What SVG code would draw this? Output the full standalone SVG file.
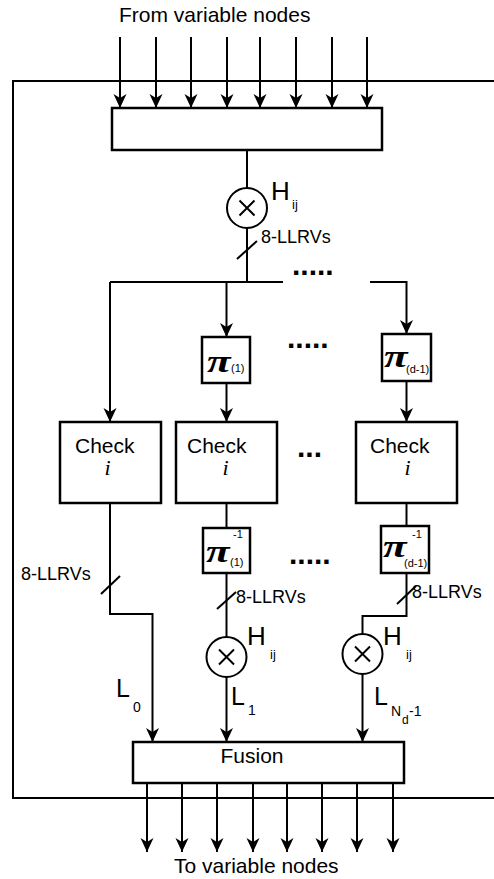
<svg xmlns="http://www.w3.org/2000/svg" width="494" height="879" viewBox="0 0 494 879">
<style>
.ln{fill:none;stroke:#000;stroke-width:2}
.bx{fill:#fff;stroke:#000;stroke-width:2.5}
.t{font-family:"Liberation Sans",Arial,sans-serif;fill:#000}
.pi{font-family:"Liberation Serif","Times New Roman",serif;font-style:italic;font-weight:bold;font-size:32px;fill:#000}
.it{font-family:"Liberation Serif","Times New Roman",serif;font-style:italic;font-size:22px;fill:#000}
.dots{font-family:"Liberation Sans",Arial,sans-serif;font-weight:bold;font-size:30px;fill:#000}
</style>
<defs>
<marker id="ah" markerUnits="userSpaceOnUse" markerWidth="16" markerHeight="16" viewBox="-15 -8 16 16" refX="0" refY="0" orient="auto">
<path d="M0,0 L-14,-6.5 L-10,0 L-14,6.5 Z" fill="#000"/>
</marker>
</defs>
<rect width="494" height="879" fill="#fff"/>
<g id="frame">
<path class="ln" d="M494,81 H13 V798 H494"/>
</g>
<g id="connectors">
<path class="ln" marker-end="url(#ah)" d="M120,37 V108"/>
<path class="ln" marker-end="url(#ah)" d="M156,37 V108"/>
<path class="ln" marker-end="url(#ah)" d="M191,37 V108"/>
<path class="ln" marker-end="url(#ah)" d="M227,37 V108"/>
<path class="ln" marker-end="url(#ah)" d="M260,37 V108"/>
<path class="ln" marker-end="url(#ah)" d="M296,37 V108"/>
<path class="ln" marker-end="url(#ah)" d="M332,37 V108"/>
<path class="ln" marker-end="url(#ah)" d="M367,37 V108"/>
<path class="ln" d="M247,150 V188"/>
<path class="ln" d="M247,228 V282"/>
<path class="ln" d="M237,259 L257,241"/>
<path class="ln" d="M110,282 H283"/>
<path class="ln" marker-end="url(#ah)" d="M110,282 V422"/>
<path class="ln" marker-end="url(#ah)" d="M226.5,282 V337"/>
<path class="ln" marker-end="url(#ah)" d="M370,282 H406.5 V334"/>
<path class="ln" marker-end="url(#ah)" d="M226.5,383 V422"/>
<path class="ln" marker-end="url(#ah)" d="M406.5,381 V422"/>
<path class="ln" marker-end="url(#ah)" d="M110,503 V614 H152.5 V742"/>
<path class="ln" d="M101,594 L120,576"/>
<path class="ln" d="M226.5,503 V528"/>
<path class="ln" d="M226.5,573 V637"/>
<path class="ln" d="M217,609 L236,592"/>
<path class="ln" marker-end="url(#ah)" d="M226.5,677 V742"/>
<path class="ln" d="M406.5,503 V526"/>
<path class="ln" d="M406.5,573 V616 H362.5 V634"/>
<path class="ln" d="M397,604 L416,586"/>
<path class="ln" marker-end="url(#ah)" d="M362.5,674 V742"/>
<path class="ln" marker-end="url(#ah)" d="M147,783 V852"/>
<path class="ln" marker-end="url(#ah)" d="M182,783 V852"/>
<path class="ln" marker-end="url(#ah)" d="M217,783 V852"/>
<path class="ln" marker-end="url(#ah)" d="M253,783 V852"/>
<path class="ln" marker-end="url(#ah)" d="M287,783 V852"/>
<path class="ln" marker-end="url(#ah)" d="M322,783 V852"/>
<path class="ln" marker-end="url(#ah)" d="M357,783 V852"/>
<path class="ln" marker-end="url(#ah)" d="M393,783 V852"/>
</g>
<g id="labels">
<text class="t" x="119" y="22" font-size="21">From variable nodes</text>
<text class="t" x="174" y="873" font-size="21">To variable nodes</text>
<text class="t" x="271" y="200" font-size="26">H</text>
<text class="t" x="292" y="209" font-size="13">ij</text>
<text class="t" x="261" y="243" font-size="18">8-LLRVs</text>
<text class="t" x="21" y="580" font-size="18">8-LLRVs</text>
<text class="t" x="236" y="603" font-size="18">8-LLRVs</text>
<text class="t" x="412" y="598" font-size="18">8-LLRVs</text>
<text class="t" x="247" y="645" font-size="26">H</text>
<text class="t" x="270" y="659" font-size="13">ij</text>
<text class="t" x="383" y="645" font-size="26">H</text>
<text class="t" x="406" y="659" font-size="13">ij</text>
<text class="t" x="116" y="697" font-size="25">L</text>
<text class="t" x="133" y="712" font-size="14">0</text>
<text class="t" x="231" y="705" font-size="25">L</text>
<text class="t" x="248" y="715" font-size="14">1</text>
<text class="t" x="374" y="705" font-size="25">L</text>
<text class="t" x="391" y="716" font-size="14">N</text>
<text class="t" x="402" y="724" font-size="12">d</text>
<text class="t" x="409" y="716" font-size="14">-1</text>
<text class="dots" x="292" y="275">.....</text>
<text class="dots" x="287" y="348">.....</text>
<text class="dots" x="297" y="457">...</text>
<text class="dots" x="289" y="564">.....</text>
</g>
<g id="input-box"><rect class="bx" x="112" y="108" width="270" height="42"/></g>
<g id="mult-top">
<circle class="ln" cx="247" cy="208" r="20" fill="#fff"/>
<path class="ln" d="M239.5,200.5 L254.5,215.5 M254.5,200.5 L239.5,215.5"/>
</g>
<g id="pi-1">
<rect class="bx" x="202" y="337" width="48" height="46"/>
<text class="pi" transform="translate(207,372) scale(1.35,1)">π</text>
<text class="t" x="231" y="372" font-size="11">(1)</text>
</g>
<g id="pi-d1">
<rect class="bx" x="382" y="334" width="49" height="47"/>
<text class="pi" transform="translate(384,367) scale(1.35,1)">π</text>
<text class="t" x="406" y="373" font-size="11">(d-1)</text>
</g>
<g id="check-0">
<rect class="bx" x="60" y="422" width="101" height="81"/>
<text class="t" x="75" y="453" font-size="21">Check</text>
<text class="it" x="107.5" y="475" text-anchor="middle">i</text>
</g>
<g id="check-1">
<rect class="bx" x="176" y="422" width="101" height="81"/>
<text class="t" x="187" y="453" font-size="21">Check</text>
<text class="it" x="225.5" y="475" text-anchor="middle">i</text>
</g>
<g id="check-d1">
<rect class="bx" x="356" y="422" width="101" height="81"/>
<text class="t" x="370" y="453" font-size="21">Check</text>
<text class="it" x="407.5" y="475" text-anchor="middle">i</text>
</g>
<g id="pinv-1">
<rect class="bx" x="203" y="528" width="47" height="45"/>
<text class="pi" transform="translate(206,562) scale(1.35,1)">π</text>
<text class="t" x="233" y="538" font-size="11">-1</text>
<text class="t" x="230" y="566" font-size="11">(1)</text>
</g>
<g id="pinv-d1">
<rect class="bx" x="381" y="526" width="48" height="47"/>
<text class="pi" transform="translate(383,557) scale(1.35,1)">π</text>
<text class="t" x="412" y="538" font-size="11">-1</text>
<text class="t" x="404" y="567" font-size="11">(d-1)</text>
</g>
<g id="mult-1">
<circle class="ln" cx="226.5" cy="657" r="20" fill="#fff"/>
<path class="ln" d="M219,649.5 L234,664.5 M234,649.5 L219,664.5"/>
</g>
<g id="mult-d1">
<circle class="ln" cx="362.5" cy="654" r="20" fill="#fff"/>
<path class="ln" d="M355,646.5 L370,661.5 M370,646.5 L355,661.5"/>
</g>
<g id="fusion">
<rect class="bx" x="133" y="742" width="271" height="41"/>
<text class="t" x="252" y="763" font-size="21" text-anchor="middle">Fusion</text>
</g>
</svg>
